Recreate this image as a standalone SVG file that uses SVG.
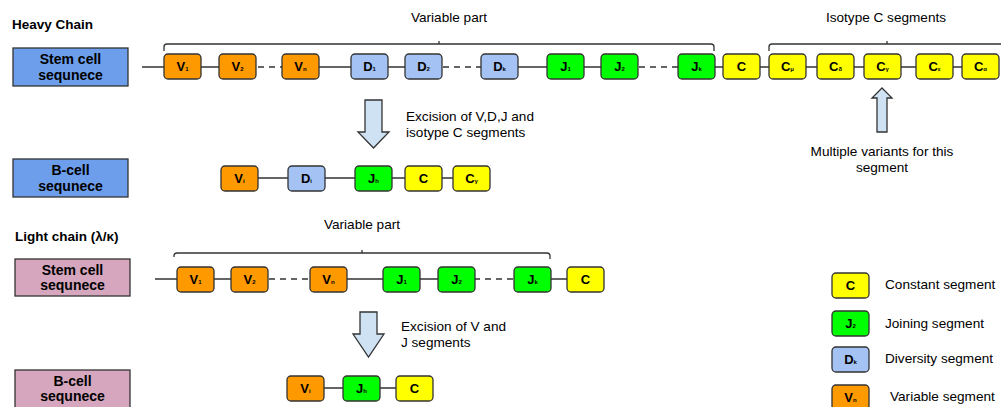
<svg xmlns="http://www.w3.org/2000/svg" width="1001" height="407" viewBox="0 0 1001 407">
<style>
text{font-family:"Liberation Sans",Arial,sans-serif;fill:#000}
.t{font-size:13.5px;font-weight:bold}
.lb{font-size:14px;font-weight:bold;text-anchor:middle}
.n{font-size:13.6px}
.c{text-anchor:middle}
.seg use{stroke:#333;stroke-width:1.3}
.seg text{font-size:13px;font-weight:bold;text-anchor:middle}
.s{font-size:6px}
.o{fill:#ff9900}.d{fill:#a4c2f4}.j{fill:#00ff00}.y{fill:#ffff00}
.bl{fill:#6d9eeb;stroke:#333;stroke-width:1.3}
.pk{fill:#d5a6bd;stroke:#333;stroke-width:1.3}
.ln{stroke:#333;stroke-width:1.3;fill:none}
.da{stroke:#333;stroke-width:1.3;fill:none;stroke-dasharray:6,5}
.br{stroke:#333;stroke-width:1.3;fill:none}
.ar{fill:#cfe2f3;stroke:#333;stroke-width:1.3}
</style>
<defs>
<rect id="b" width="37" height="25" rx="4" stroke="#333" stroke-width="1.3"/>
</defs>

<text class="t" x="12" y="29">Heavy Chain</text>
<text class="t" x="15" y="241">Light chain (λ/κ)</text>

<g id="heavy-stem-label"><rect class="bl" x="13" y="48" width="115" height="38"/><text class="lb" x="70.5" y="64">Stem cell</text><text class="lb" x="70.5" y="80">sequnece</text></g>
<g id="heavy-bcell-label"><rect class="bl" x="13" y="159" width="115" height="38"/><text class="lb" x="70.5" y="175">B-cell</text><text class="lb" x="70.5" y="191">sequnece</text></g>
<g id="light-stem-label"><rect class="pk" x="15" y="259" width="115" height="37"/><text class="lb" x="72.5" y="275">Stem cell</text><text class="lb" x="72.5" y="290">sequnece</text></g>
<g id="light-bcell-label"><rect class="pk" x="15" y="370" width="115" height="38"/><text class="lb" x="72.5" y="386">B-cell</text><text class="lb" x="72.5" y="401">sequnece</text></g>

<g id="connectors">
<path class="ln" d="M142,67H164M201,67H219M318,67H351M387,67H405M518,67H547M583,67H601M714,67H723M760,67H769M806,67H817M853,67H864M900,67H916M952,67H962"/>
<path class="da" d="M258,67H282M443,67H481M639,67H678"/>
<path class="ln" d="M257,178H288M324,178H355M391,178H405M441,178H453"/>
<path class="ln" d="M155,279H177M213,279H231M346,279H383M419,279H438M550,279H567"/>
<path class="da" d="M269,279H310M474,279H514"/>
<path class="ln" d="M323,388H343M379,388H396"/>
<path class="br" d="M164,51V47Q164,44 167,44H711Q714,44 714,47V51M439,44V41"/>
<path class="br" d="M769,51V47Q769,44 772,44H1002M887,44V41"/>
<path class="br" d="M174,257V256Q174,253 177,253H547Q550,253 550,256V259M362,253V250"/>
<path class="ar" d="M365,100H382V132H389L373.5,148L358,132H365Z"/>
<path class="ar" d="M360,312H377V334H384L368.5,357L353,334H360Z"/>
<path class="ar" d="M877,132V98H872L882,88L892,98H887V132Z"/>
</g>

<text class="n c" x="449" y="22">Variable part</text>
<text class="n c" x="886" y="22">Isotype C segments</text>
<text class="n" x="406" y="121">Excision of V,D,J and</text>
<text class="n" x="406" y="137">isotype C segments</text>
<text class="n c" x="882" y="156">Multiple variants for this</text>
<text class="n c" x="882" y="172">segment</text>
<text class="n c" x="362" y="229">Variable part</text>
<text class="n" x="401" y="331">Excision of V and</text>
<text class="n" x="401" y="347">J segments</text>

<g id="h-V1" class="seg"><use href="#b" x="164" y="54" class="o"/><text x="182.5" y="71">V<tspan class="s">1</tspan></text></g>
<g id="h-V2" class="seg"><use href="#b" x="219" y="54" class="o"/><text x="237.5" y="71">V<tspan class="s">2</tspan></text></g>
<g id="h-Vn" class="seg"><use href="#b" x="282" y="54" class="o"/><text x="300.5" y="71">V<tspan class="s">n</tspan></text></g>
<g id="h-D1" class="seg"><use href="#b" x="351" y="54" class="d"/><text x="369.5" y="71">D<tspan class="s">1</tspan></text></g>
<g id="h-D2" class="seg"><use href="#b" x="405" y="54" class="d"/><text x="423.5" y="71">D<tspan class="s">2</tspan></text></g>
<g id="h-Dk" class="seg"><use href="#b" x="481" y="54" class="d"/><text x="499.5" y="71">D<tspan class="s">k</tspan></text></g>
<g id="h-J1" class="seg"><use href="#b" x="547" y="54" class="j"/><text x="565.5" y="71">J<tspan class="s">1</tspan></text></g>
<g id="h-J2" class="seg"><use href="#b" x="601" y="54" class="j"/><text x="619.5" y="71">J<tspan class="s">2</tspan></text></g>
<g id="h-Jk" class="seg"><use href="#b" x="678" y="54" class="j"/><text x="696.5" y="71">J<tspan class="s">k</tspan></text></g>
<g id="h-C" class="seg"><use href="#b" x="723" y="54" class="y"/><text x="741.5" y="71">C</text></g>
<g id="h-Cmu" class="seg"><use href="#b" x="769" y="54" class="y"/><text x="787.5" y="71">C<tspan class="s">μ</tspan></text></g>
<g id="h-Cdelta" class="seg"><use href="#b" x="817" y="54" class="y"/><text x="835.5" y="71">C<tspan class="s">δ</tspan></text></g>
<g id="h-Cgamma" class="seg"><use href="#b" x="864" y="54" class="y"/><text x="882.5" y="71">C<tspan class="s">γ</tspan></text></g>
<g id="h-Ceps" class="seg"><use href="#b" x="916" y="54" class="y"/><text x="934.5" y="71">C<tspan class="s">ε</tspan></text></g>
<g id="h-Calpha" class="seg"><use href="#b" x="962" y="54" class="y"/><text x="980.5" y="71">C<tspan class="s">α</tspan></text></g>

<g id="hb-Vi" class="seg"><use href="#b" x="221" y="166" class="o"/><text x="239.5" y="183">V<tspan class="s">i</tspan></text></g>
<g id="hb-Di" class="seg"><use href="#b" x="288" y="166" class="d"/><text x="306.5" y="183">D<tspan class="s">i</tspan></text></g>
<g id="hb-Jh" class="seg"><use href="#b" x="355" y="166" class="j"/><text x="373.5" y="183">J<tspan class="s">h</tspan></text></g>
<g id="hb-C" class="seg"><use href="#b" x="405" y="166" class="y"/><text x="423.5" y="183">C</text></g>
<g id="hb-Cgamma" class="seg"><use href="#b" x="453" y="166" class="y"/><text x="471.5" y="183">C<tspan class="s">γ</tspan></text></g>

<g id="l-V1" class="seg"><use href="#b" x="177" y="267" class="o"/><text x="195.5" y="284">V<tspan class="s">1</tspan></text></g>
<g id="l-V2" class="seg"><use href="#b" x="231" y="267" class="o"/><text x="249.5" y="284">V<tspan class="s">2</tspan></text></g>
<g id="l-Vn" class="seg"><use href="#b" x="310" y="267" class="o"/><text x="328.5" y="284">V<tspan class="s">n</tspan></text></g>
<g id="l-J1" class="seg"><use href="#b" x="383" y="267" class="j"/><text x="401.5" y="284">J<tspan class="s">1</tspan></text></g>
<g id="l-J2" class="seg"><use href="#b" x="438" y="267" class="j"/><text x="456.5" y="284">J<tspan class="s">2</tspan></text></g>
<g id="l-Jk" class="seg"><use href="#b" x="514" y="267" class="j"/><text x="532.5" y="284">J<tspan class="s">k</tspan></text></g>
<g id="l-C" class="seg"><use href="#b" x="567" y="267" class="y"/><text x="585.5" y="284">C</text></g>

<g id="lb-Vi" class="seg"><use href="#b" x="287" y="376" class="o"/><text x="305.5" y="393">V<tspan class="s">i</tspan></text></g>
<g id="lb-Jh" class="seg"><use href="#b" x="343" y="376" class="j"/><text x="361.5" y="393">J<tspan class="s">h</tspan></text></g>
<g id="lb-C" class="seg"><use href="#b" x="396" y="376" class="y"/><text x="414.5" y="393">C</text></g>

<g id="legend-C" class="seg"><use href="#b" x="832" y="273" class="y"/><text x="850.5" y="290">C</text></g>
<text class="n" x="885" y="289">Constant segment</text>
<g id="legend-J" class="seg"><use href="#b" x="832" y="311" class="j"/><text x="850.5" y="328">J<tspan class="s">2</tspan></text></g>
<text class="n" x="885" y="328">Joining segment</text>
<g id="legend-D" class="seg"><use href="#b" x="832" y="347" class="d"/><text x="850.5" y="364">D<tspan class="s">k</tspan></text></g>
<text class="n" x="885" y="363">Diversity segment</text>
<g id="legend-V" class="seg"><use href="#b" x="832" y="385" class="o"/><text x="850.5" y="402">V<tspan class="s">n</tspan></text></g>
<text class="n" x="890" y="401">Variable segment</text>
</svg>
